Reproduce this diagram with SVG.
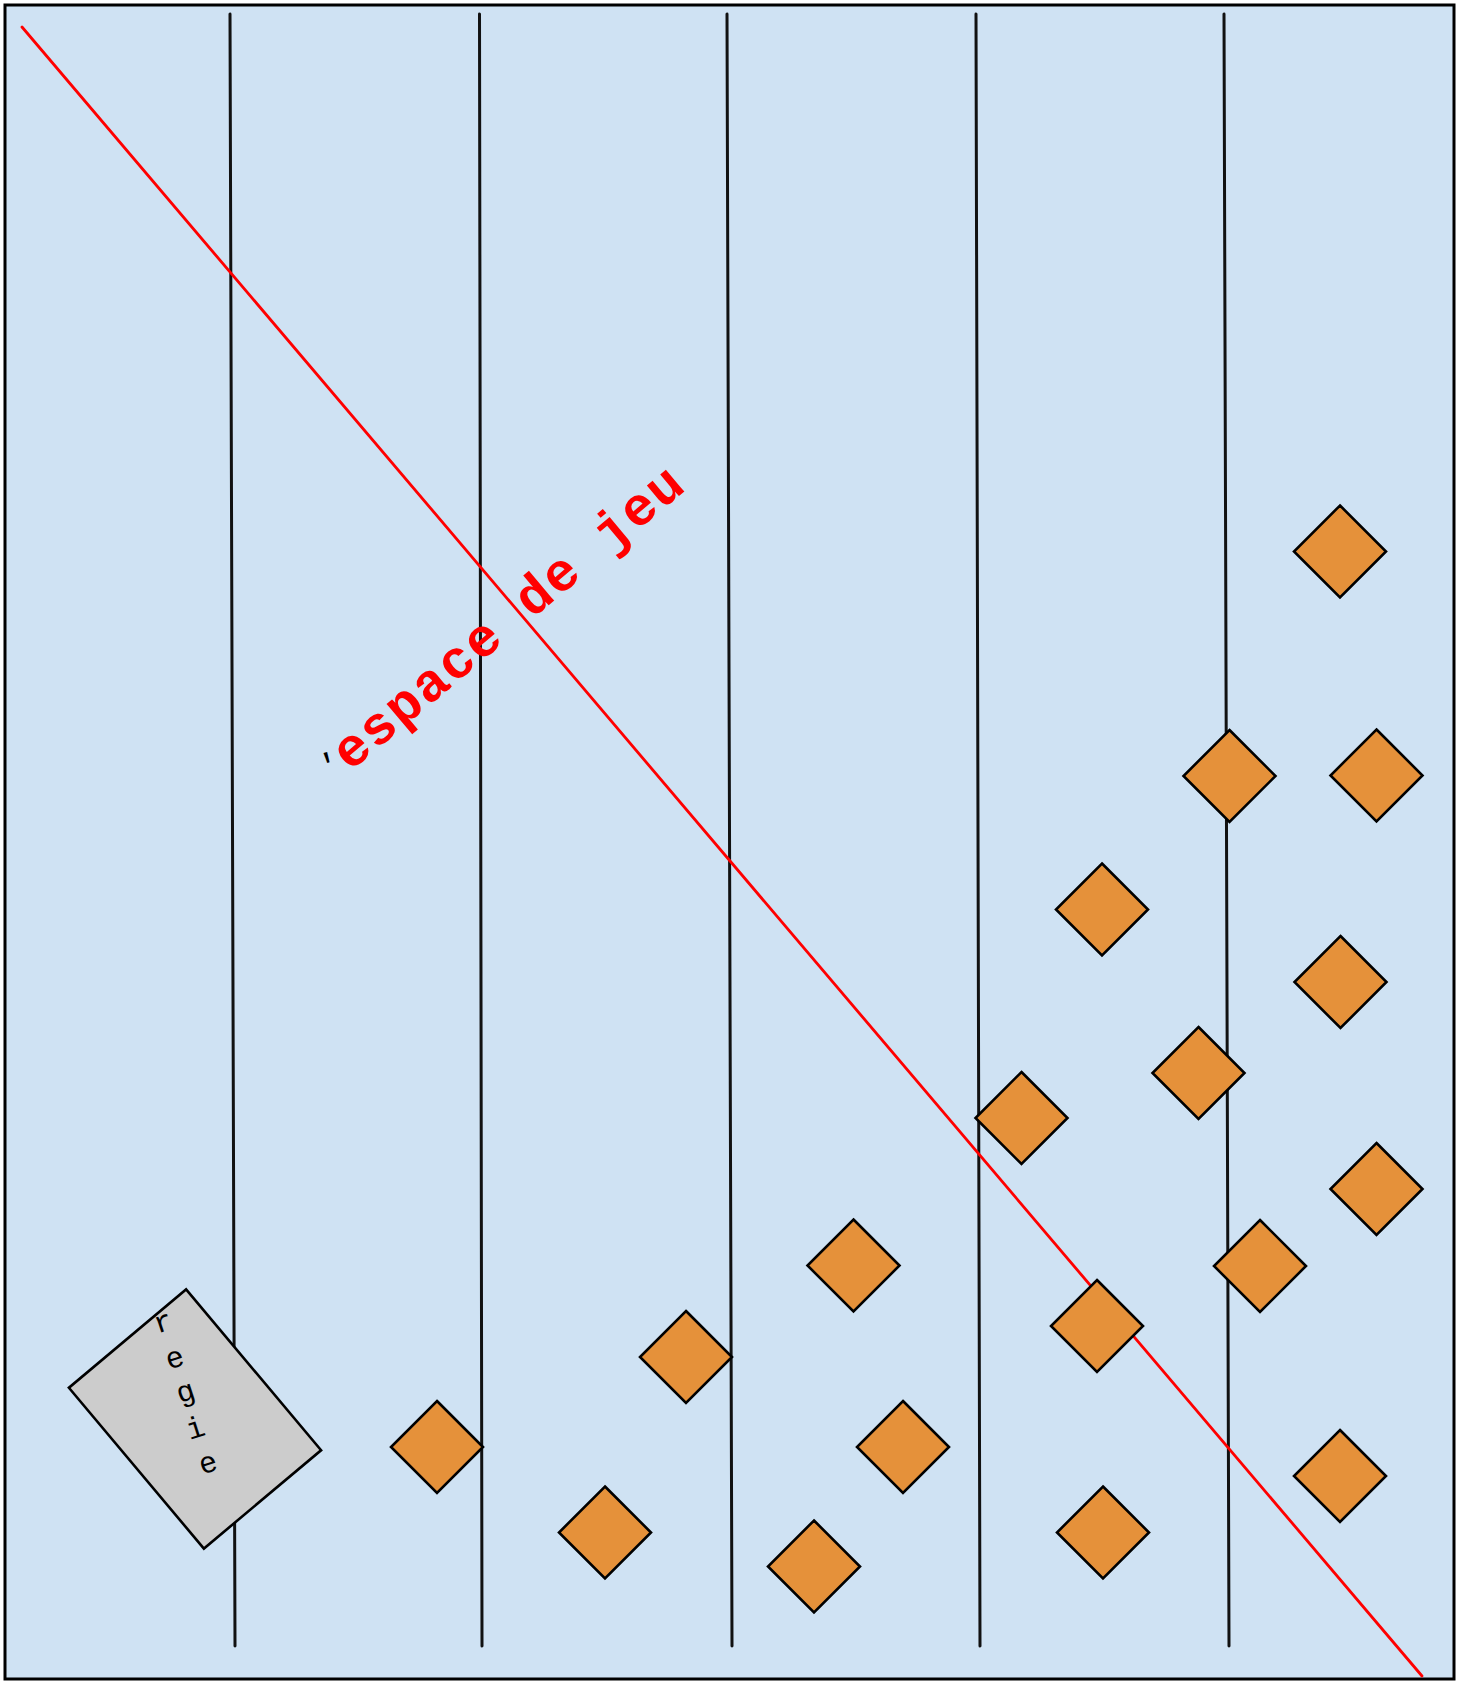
<svg xmlns="http://www.w3.org/2000/svg" width="1472" height="1686" viewBox="0 0 1472 1686">
<defs>
<style>
.frame{fill:#CFE2F3;stroke:#000;stroke-width:3}
.vline{fill:none;stroke:#111;stroke-width:3;stroke-linecap:round}
.redline{fill:none;stroke:#FF0000;stroke-width:2.8;stroke-linecap:round}
.dia{fill:#E5913A;stroke:#000;stroke-width:2.6;stroke-linejoin:miter}
.regie{fill:#CCCCCC;stroke:#000;stroke-width:2.6}
.lbl{font-family:"Liberation Mono","DejaVu Sans Mono",monospace;font-size:54px;font-weight:bold;letter-spacing:1.6px;fill:#FF0000}
.rl{font-family:"Liberation Mono","DejaVu Sans Mono",monospace;font-size:30px;fill:#000;text-anchor:middle}
.tick{font-family:"Liberation Mono","DejaVu Sans Mono",monospace;font-size:34px;fill:#000;text-anchor:middle}
</style>
<polygon id="d" class="dia" points="0,-46 46,0 0,46 -46,0"/>
</defs>
<rect class="frame" x="5" y="5" width="1449" height="1674"/>
<g id="connectors">
<line class="vline" x1="230" y1="14" x2="235" y2="1646"/>
<line class="vline" x1="479.5" y1="14" x2="482" y2="1646"/>
<line class="vline" x1="727" y1="14" x2="732" y2="1646"/>
<line class="vline" x1="976" y1="14" x2="980" y2="1646"/>
<line class="vline" x1="1224" y1="14" x2="1229" y2="1646"/>
<line class="redline" x1="22" y1="27" x2="1422" y2="1676"/>
</g>
<g id="label-espace">
<text class="lbl" transform="translate(350,772) rotate(-40)" x="0" y="0">espace de jeu</text>
<text class="tick" transform="translate(332.4,776) rotate(-17)" x="0" y="0">'</text>
</g>
<g id="regie">
<rect class="regie" x="-76.5" y="-105" width="153" height="210" transform="translate(195,1419) rotate(-40)"/>
<text class="rl" transform="translate(163.3,1323.3) rotate(-18)" y="8">r</text>
<text class="rl" transform="translate(175,1359.3) rotate(-18)" y="8">e</text>
<text class="rl" transform="translate(186.7,1396) rotate(-18)" y="5">g</text>
<text class="rl" transform="translate(195,1426.7) rotate(-18)" y="11">i</text>
<text class="rl" transform="translate(208.3,1464.3) rotate(-18)" y="8">e</text>
</g>
<g id="node1"><use href="#d" x="1340" y="551.5"/></g>
<g id="node2"><use href="#d" x="1229.5" y="776"/></g>
<g id="node3"><use href="#d" x="1376.5" y="775.5"/></g>
<g id="node4"><use href="#d" x="1102" y="909.5"/></g>
<g id="node5"><use href="#d" x="1340.5" y="982"/></g>
<g id="node6"><use href="#d" x="1198.5" y="1073"/></g>
<g id="node7"><use href="#d" x="1021.5" y="1118"/></g>
<g id="node8"><use href="#d" x="1376.5" y="1189"/></g>
<g id="node9"><use href="#d" x="853.5" y="1265.5"/></g>
<g id="node10"><use href="#d" x="1260" y="1266"/></g>
<g id="node11"><use href="#d" x="1097" y="1326"/></g>
<g id="node12"><use href="#d" x="686" y="1357"/></g>
<g id="node13"><use href="#d" x="437" y="1447"/></g>
<g id="node14"><use href="#d" x="903" y="1447"/></g>
<g id="node15"><use href="#d" x="1340" y="1476"/></g>
<g id="node16"><use href="#d" x="605" y="1532.5"/></g>
<g id="node17"><use href="#d" x="1103" y="1532.5"/></g>
<g id="node18"><use href="#d" x="814" y="1566.5"/></g>
</svg>
